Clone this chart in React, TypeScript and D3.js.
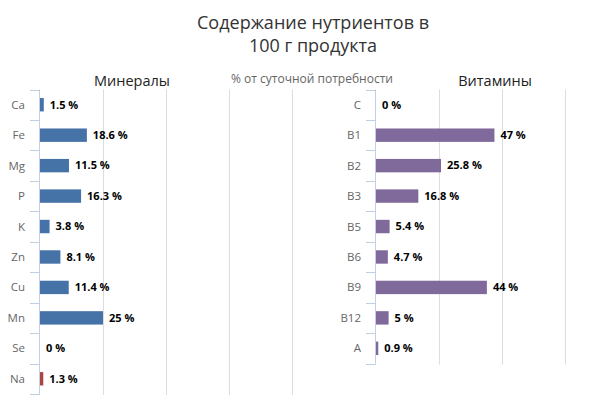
import React from "react";
import * as d3 from "d3";

const mineralNames = ["Ca", "Fe", "Mg", "P", "K", "Zn", "Cu", "Mn", "Se", "Na"];
const mineralValues = [1.5, 18.6, 11.5, 16.3, 3.8, 8.1, 11.4, 25, 0, 1.3];
const vitaminNames = ["C", "B1", "B2", "B3", "B5", "B6", "B9", "B12", "A"];
const vitaminValues = [0, 47, 25.8, 16.8, 5.4, 4.7, 44, 5, 0.9];
const gridTicks = [25, 50, 75, 100];
const titleLines = ["Содержание нутриентов в", "100 г продукта"];

const FONT = "'Open Sans', 'DejaVu Sans', sans-serif";

function Panel({
  names, values, x0, top, title, titleX, colorFor,
}: {
  names: string[]; values: number[]; x0: number; top: number; title: string; titleX: number;
  colorFor: (n: string) => string;
}) {
  const step = 30.45;
  const bottom = top + step * names.length;
  const x = d3.scaleLinear().domain([0, 100]).range([x0, x0 + 252]);
  const y = d3.scaleBand<string>().domain(names).range([top, bottom]).paddingInner(0.56).paddingOuter(0.28);
  const boundaries = d3.range(names.length + 1).map((i) => top + i * step);
  return (
    <g>
      <text x={titleX} y={86} textAnchor="middle" fontFamily={FONT} fontSize={14.5} fill="#222">{title}</text>
      {gridTicks.map((t) => (
        <line key={t} x1={Math.round(x(t)) + 0.5} x2={Math.round(x(t)) + 0.5} y1={top} y2={bottom + 1} stroke="#DDDDDD" strokeWidth={1} />
      ))}
      {boundaries.map((b, i) => (
        <line key={i} x1={x0 - 10} x2={x0} y1={Math.round(b) + 0.5} y2={Math.round(b) + 0.5} stroke="#C0D0E0" strokeWidth={1} />
      ))}
      <line x1={x0 - 0.5} x2={x0 - 0.5} y1={top} y2={bottom} stroke="#C0D0E0" strokeWidth={1} />
      {names.map((n, i) => (
        <g key={n}>
          <rect x={x0} y={y(n)!} width={Math.max(0, x(values[i]) - x0)} height={y.bandwidth()} fill={colorFor(n)} />
          <text x={x0 - 15} y={y(n)! + y.bandwidth() / 2} dy="0.35em" textAnchor="end" fontFamily={FONT} fontSize={11.5} fill="#666">{n}</text>
          <text x={x(values[i]) + 6} y={y(n)! + y.bandwidth() / 2} dy="0.35em" fontFamily={FONT} fontSize={11} fontWeight="bold" fill="#000">{`${values[i]} %`}</text>
        </g>
      ))}
    </g>
  );
}

export default function App() {
  return (
    <svg width={613} height={400} style={{ position: "absolute", left: 0, top: 0, background: "#fff" }}>
      <rect width={613} height={400} fill="#fff" />
      {titleLines.map((l, i) => (
        <text key={i} x={313} y={29 + i * 23} textAnchor="middle" fontFamily={FONT} fontSize={18} fill="#333">{l}</text>
      ))}
      <text x={312} y={83} textAnchor="middle" fontFamily={FONT} fontSize={12} fill="#666">% от суточной потребности</text>
      <Panel names={mineralNames} values={mineralValues} x0={40} top={89.5} title="Минералы" titleX={132}
        colorFor={(n) => (n === "Na" ? "#AA4643" : "#4572A7")} />
      <Panel names={vitaminNames} values={vitaminValues} x0={376} top={89.5} title="Витамины" titleX={495}
        colorFor={() => "#80699B"} />
    </svg>
  );
}
